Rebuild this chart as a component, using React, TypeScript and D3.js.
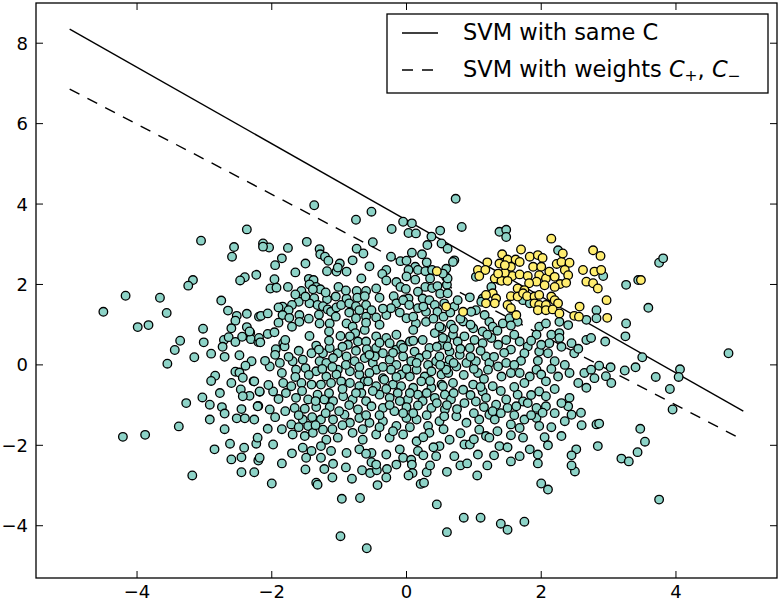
import React from 'react';
import * as d3 from 'd3';

const W = 783;
const H = 603;

const xTicks = [-4, -2, 0, 2, 4];
const yTicks = [-4, -2, 0, 2, 4, 6, 8];

const lineX = [-5, 5];
const sameCY = [8.35, -1.15];
const weightedY = [6.86, -1.87];

const legendLabels = ['SVM with same C', 'SVM with weights '];

// majority class (teal)
const majority: [number, number][] = [
  [-2.37,3.37],[-3.05,3.09],[-2.56,2.93],[-2.59,2.69],[-3.17,2.11],[-3.24,1.97],[-2.40,2.18],[-2.47,2.10],[-2.23,2.24],[-4.17,1.72],[-3.66,1.67],[-4.5,1.32],[-3.56,1.29],[-3.99,0.94],[-3.83,0.99],[-3.02,0.90],[-2.52,1.22],[-2.54,1.10],[-2.37,1.27],[-2.60,0.91],[-2.37,0.94],[-2.19,1.20],
  [-3.36,0.60],[-3.44,0.37],[-3.01,0.56],[-3.55,0.03],[-3.15,0.19],[-2.90,0.28],[-2.71,0.62],[-2.64,0.69],[-2.73,0.45],[-2.54,0.57],[-2.44,0.70],[-2.32,0.80],[-2.31,0.64],[-2.20,0.57],[-2.48,0.24],[-2.30,0.09],[-2.39,-0.02],[-2.54,-0.17],[-2.48,-0.19],[-2.43,-0.32],[-2.84,-0.27],[-2.27,-0.41],[-2.46,-0.61],[-2.33,-0.77],[-2.43,-0.78],[-2.77,-0.70],[-3.03,-0.81],[-3.27,-0.95],[-2.92,-0.99],[-2.74,-1.05],[-2.70,-1.21],[-2.45,-1.10],[-2.20,-1.02],[-2.18,-0.67],[-2.92,-1.36],[-2.52,-1.33],[-2.40,-1.33],[-3.38,-1.53],[-2.70,-1.60],[-4.21,-1.79],[-3.88,-1.74],[-2.62,-1.96],[-2.41,-2.06],[-2.23,-1.96],[-2.45,-2.30],
  [-2.20,-2.38],[-2.45,-2.67],[-2.26,-2.67],[-3.18,-2.75],
  [-1.37,3.97],[-0.52,3.81],[-0.75,3.61],[-0.05,3.56],[0.08,3.52],[-0.22,3.38],[0.03,3.28],[0.14,3.27],[0.50,3.34],[0.37,3.19],[0.31,2.98],[0.52,3.02],
  [-2.13,3.02],[-2.04,2.92],[-2.13,2.94],[-1.76,2.91],[-1.48,3.06],[-1.29,2.88],[-0.74,2.89],[-0.64,2.77],[-0.50,3.05],[-1.28,2.75],[-1.21,2.69],[-1.16,2.59],[-1.50,2.52],[-0.99,2.52],[-1.95,2.48],
  [-1.18,2.33],[-1.04,2.32],[-1.02,2.42],[-0.89,2.32],[-0.23,2.69],[-0.09,2.58],[0.08,2.79],[0.00,2.59],[0.23,2.75],[0.30,2.55],[0.13,2.44],[-0.30,2.36],[-0.36,2.26],[0.03,2.36],[0.17,2.36],[0.28,2.33],[0.38,2.36],[0.59,2.39],
  [-0.67,2.15],[-1.45,2.14],[-1.38,2.11],[-1.96,2.13],[-2.02,1.90],[-1.93,1.92],[-1.76,1.94],[-1.44,2.00],[-1.34,1.94],[-1.28,1.88],[-1.39,1.88],[-1.01,1.94],[-1.56,1.84],[-1.37,1.66],[-1.18,1.63],[-1.60,1.57],[-0.74,1.84],[-0.60,1.84],[-0.73,1.67],[-0.62,1.71],[-0.40,1.67],[-0.15,2.06],[-0.09,1.94],[-0.01,1.89],[-0.19,1.71],[-0.03,1.63],[0.03,1.65],[0.17,1.82],[0.13,2.12],[0.28,1.94],[0.38,1.91],[0.46,1.96],[0.50,1.77],[0.59,2.18],[0.60,1.99],
  [0.24,1.65],[0.34,1.61],[0.17,1.41],[0.29,1.32],[0.42,1.49],[0.46,1.32],
  [-1.84,1.45],[-1.90,1.43],[-1.70,1.49],[-1.75,1.36],[-1.84,1.24],[-1.74,1.17],[-2.16,1.22],[-2.06,1.28],[-1.59,1.24],[-1.59,1.07],[-1.44,1.53],[-1.32,1.49],[-1.24,1.46],[-1.17,1.38],[-1.12,1.32],[-1.04,1.43],[-0.97,1.49],[-0.89,1.65],[-0.85,1.53],[-0.75,1.46],[-0.60,1.49],[-0.52,1.36],[-0.70,1.36],[-1.29,1.03],[-1.14,1.03],[-0.89,1.03],[-0.75,1.16],[-0.60,1.20],[-0.45,1.18],[-0.30,1.24],[-0.15,1.53],[-0.23,1.41],[-0.05,1.61],[0.04,1.49],[0.00,1.16],[0.14,1.03],[0.29,1.07],
  [-2.33,0.83],[-2.19,0.67],[-2.06,0.77],[-1.96,0.81],[-1.83,0.54],[-1.15,0.83],[-0.80,0.95],[-0.76,0.79],[-0.62,0.87],[-0.45,0.71],[-0.30,0.67],[-0.15,0.75],[0.10,0.87],[0.42,0.79],[0.52,0.91],[0.59,0.62],
  [-2.17,0.56],[-1.94,0.39],[-1.81,0.46],[-1.80,0.62],[-1.44,0.72],[-1.34,0.48],[-1.41,0.29],[-1.24,0.29],[-1.14,0.42],[-1.02,0.29],[-0.98,0.72],[-0.84,0.71],[-0.87,0.50],[-0.72,0.58],[-0.60,0.58],[-0.59,0.39],[-0.45,0.42],[-0.35,0.29],[-0.25,0.54],[-0.15,0.38],[-0.08,0.50],[0.05,0.58],[0.12,0.33],[0.24,0.62],[0.34,0.42],[0.52,0.50],[0.64,0.33],
  [-1.69,0.09],[-1.54,0.13],[-1.64,-0.12],[-1.50,-0.08],[-1.29,0.09],[-1.19,0.05],[-1.09,0.17],[-1.02,-0.12],[-0.89,0.21],[-0.77,0.09],[-0.62,0.17],[-0.50,0.05],[-0.47,0.21],[-0.25,0.13],[-0.15,0.00],[-0.05,0.21],[0.07,0.09],[0.19,0.17],[0.32,0.00],[0.44,0.09],[0.59,-0.04],
  [-2.03,-0.04],[-1.88,0.05],[-1.34,-0.16],[-1.19,-0.29],[-1.04,-0.24],[-0.84,-0.16],[-0.70,-0.24],[-0.62,-0.41],[-0.45,-0.12],[-0.35,-0.33],[-0.23,-0.12],[-0.08,-0.24],[0.05,-0.29],[0.15,-0.12],[0.27,-0.29],[0.37,-0.16],[0.52,-0.24],[0.62,-0.20],
  [-2.26,-0.41],[-1.83,-0.45],[-1.71,-0.53],[-1.56,-0.45],[-1.41,-0.49],[-1.27,-0.49],[-1.12,-0.45],[-0.97,-0.41],[-0.84,-0.45],[-0.70,-0.53],[-0.57,-0.41],[-0.45,-0.53],[-0.33,-0.37],[-0.20,-0.49],[-0.08,-0.53],[0.10,-0.57],[0.22,-0.41],[0.37,-0.57],[0.52,-0.49],
  [-2.18,-0.66],[-1.98,-0.66],[-1.79,-0.70],[-1.64,-0.82],[-1.46,-0.86],[-1.32,-0.74],[-1.22,-0.86],[-1.09,-0.90],[-0.94,-0.78],[-0.80,-0.86],[-0.67,-0.70],[-0.60,-0.90],[-0.40,-0.74],[-0.25,-0.82],[-0.13,-0.70],[0.02,-0.86],[0.17,-0.74],[0.24,-0.90],[0.42,-0.82],[0.57,-0.74],
  [-2.21,-1.03],[-2.03,-1.11],[-1.66,-1.07],[-1.51,-1.09],[-1.34,-1.05],[-1.14,-1.05],[-0.92,-1.24],[-0.72,-1.11],[-0.52,-1.03],[-0.35,-1.07],[-0.18,-1.15],[0.00,-1.05],[0.17,-1.01],[0.37,-1.07],[0.57,-1.11],
  [-2.26,-1.36],[-2.06,-1.59],[-1.71,-1.48],[-1.54,-1.36],[-1.46,-1.52],[-1.27,-1.36],[-1.24,-1.61],[-1.09,-1.36],[-0.84,-1.44],[-0.70,-1.32],[-0.55,-1.44],[-0.35,-1.40],[-0.15,-1.52],[0.00,-1.32],[0.15,-1.36],[0.32,-1.52],[0.49,-1.40],
  [-2.21,-1.81],[-1.98,-1.98],[-1.69,-1.73],[-1.51,-1.77],[-1.39,-1.69],[-1.19,-1.86],[-1.02,-1.81],[-0.80,-1.69],[-0.65,-1.86],[-0.45,-1.73],[-0.25,-1.81],[-0.05,-1.73],[0.15,-1.90],[0.34,-1.69],[0.49,-2.02],
  [-2.18,-2.31],[-1.54,-2.06],[-1.41,-2.14],[-1.27,-2.02],[-1.12,-2.14],[-0.89,-2.19],[-0.70,-2.10],[-0.52,-2.19],[-0.30,-2.23],[-0.10,-2.10],[0.17,-2.14],[0.44,-2.27],
  [-1.49,-2.31],[-1.27,-2.31],[-0.05,-2.31],[0.07,-2.36],[-2.0,-2.95],[-1.22,-2.59],[-1.09,-2.46],[-1.34,-2.93],[-1.32,-2.98],[-0.81,-2.83],[-0.66,-2.62],[-0.54,-2.69],[-0.52,-2.42],[-0.44,-2.62],[-0.45,-2.48],[-0.29,-2.59],[-0.15,-2.48],[0.08,-2.48],[0.09,-2.69],[0.03,-2.75],[0.30,-2.67],[0.35,-2.50],[-0.43,-2.99],[0.21,-2.96],[0.26,-2.93],[0.60,-2.66],[-0.96,-3.33],[-0.69,-3.31],[0.45,-3.47],[-0.98,-4.26],[-0.59,-4.56],[0.60,-4.16],[-0.60,-2.21],
  [0.73,4.13],[0.82,3.43],[1.38,3.31],[1.48,3.36],[1.48,3.18],[0.61,2.89],[0.71,2.60],[0.69,2.56],[0.61,2.15],[0.54,2.27],[1.03,2.19],[0.61,1.78],[0.56,1.53],[0.71,1.45],[0.76,1.61],[0.94,1.68],[1.03,1.36],[0.96,1.32],[1.13,1.65],[1.11,1.57],[1.38,2.11],[1.26,1.94],[1.16,1.24],[1.23,1.07],[1.43,1.03],[1.53,1.16],[1.73,1.61],[1.83,1.53],[1.65,1.07],[1.97,0.95],[2.07,1.03],[2.25,2.85],[2.27,1.07],[2.40,0.99],[2.82,1.36],[2.82,1.16],[2.92,2.21],[3.26,1.99],[3.44,2.11],[3.26,1.03],[2.67,1.12],
  [0.49,0.95],[0.66,1.0],[0.84,1.08],[0.99,0.91],[1.13,0.83],[1.28,0.95],[1.55,0.98],[1.93,0.75],[2.15,0.75],[2.27,0.79],
  [0.54,0.67],[0.69,0.75],[0.61,0.46],[0.76,0.58],[0.86,0.71],[1.01,0.62],[0.94,0.42],[1.13,0.54],[1.26,0.67],[1.36,0.50],[1.48,0.62],[1.55,0.38],[1.68,0.58],[1.80,0.46],[1.75,0.29],[1.97,0.33],[2.10,0.29],[2.20,0.09],[2.12,0.54],[2.27,0.67],[2.45,0.54],[2.49,0.29],[2.67,0.62],[2.74,0.67],
  [0.49,0.21],[0.64,0.13],[0.79,0.25],[0.59,-0.12],[0.74,-0.04],[0.89,0.05],[1.03,0.09],[1.18,0.21],[1.23,0.05],[1.06,-0.20],[1.21,-0.12],[1.36,-0.04],[1.48,0.05],[1.41,-0.29],[1.55,-0.20],[1.68,-0.20],[1.83,-0.29],[1.93,-0.12],[2.0,-0.24],[2.07,-0.41],[2.25,-0.29],[2.42,-0.20],[2.64,-0.20],[2.74,-0.12],[2.79,-0.33],
  [0.54,-0.53],[0.69,-0.45],[0.84,-0.62],[0.99,-0.49],[1.13,-0.66],[1.28,-0.53],[0.66,-0.86],[0.86,-0.95],[1.03,-0.91],[1.18,-0.82],[1.33,-0.99],[1.48,-0.86],[1.65,-0.74],[1.73,-0.91],[1.50,-1.07],[1.63,-1.03],[1.80,-0.95],[1.97,-0.66],[2.07,-0.78],[1.93,-1.07],[2.07,-1.03],[2.42,-0.82],[2.40,-1.03],[2.59,-1.19],[2.67,-0.57],
  [0.56,-1.28],[0.74,-1.28],[0.89,-1.44],[1.08,-1.36],[1.23,-1.24],[1.31,-1.36],[1.28,-1.15],[1.55,-1.48],[1.68,-1.57],[1.75,-1.36],[1.93,-1.32],[2.02,-1.19],[1.97,-1.52],[2.35,-1.40],[2.45,-1.24],[2.82,-1.48],[2.30,-1.77],[1.18,-1.77],[1.08,-1.61],[1.23,-1.81],[0.86,-1.98],[0.64,-1.86],[0.94,-1.98],[1.38,-2.02],[1.73,-1.81],[1.83,-2.10],[1.95,-2.23],[1.68,-2.27],[0.71,-2.27],[1.06,-2.23],[2.52,-2.10],[2.84,-2.02],
  [3.75,2.54],[3.81,2.65],[3.59,1.42],[3.25,0.71],[2.95,0.58],[4.78,0.29],[3.50,0.19],[2.86,-0.02],[3.03,-0.06],[2.96,-0.28],[3.04,-0.45],[3.24,-0.14],[3.40,-0.06],[3.70,-0.30],[4.06,-0.11],[4.04,-0.30],[3.91,-0.60],[3.95,-1.11],[2.86,-1.46],[3.47,-1.59],[3.54,-1.91],[3.43,-2.17],[3.19,-2.33],
  [0.85,-3.8],[1.1,-3.8],[1.4,-3.95],[1.5,-4.1],[1.75,-3.9],[2.0,-2.95],[2.1,-3.1],[2.45,-2.25],[2.5,-2.65],[2.45,-2.5],[1.2,-2.5],[1.05,-2.75],[0.8,-2.5],[1.55,-2.4],[1.95,-2.45],[3.3,-2.4],[3.75,-3.35],
  [-1.95,0.25],[-1.75,0.2],[-1.6,0.35],[-1.3,0.38],[-1.15,0.6],[-0.95,0.45],[-0.75,0.35],[-0.55,0.25],[-0.4,0.55],[-0.2,0.3],[-0.05,0.42],[0.1,0.6],[0.3,0.25],[0.45,0.45],[0.7,0.9],[0.8,0.4],[0.95,0.2],[1.1,0.35],[1.2,0.75],[1.35,0.85],[1.45,0.3],[1.6,0.75],[1.7,0.1],[1.85,0.6],[2.0,0.5],[2.3,0.45],[2.55,0.4],
  [-2.1,0.1],[-1.85,-0.2],[-1.65,-0.3],[-1.45,-0.25],[-1.25,-0.1],[-1.1,-0.05],[-0.9,0.0],[-0.7,-0.05],[-0.55,-0.2],[-0.35,-0.05],[-0.15,-0.3],[0.0,-0.1],[0.15,0.05],[0.35,-0.4],[0.5,0.0],[0.7,0.05],[0.85,-0.25],[1.0,-0.1],[1.15,-0.35],[1.3,0.2],[1.6,0.0],[1.75,-0.45],[1.95,0.1],[2.15,-0.1],[2.35,0.0],[2.55,-0.45],
  [-2.05,-0.5],[-1.9,-0.85],[-1.55,-0.65],[-1.35,-0.9],[-1.15,-0.7],[-0.95,-0.6],[-0.75,-0.7],[-0.5,-0.65],[-0.3,-0.6],[-0.1,-0.9],[0.05,-0.7],[0.3,-0.7],[0.45,-0.95],[0.7,-0.7],[0.95,-0.75],[1.1,-0.55],[1.4,-0.65],[1.6,-0.55],[1.85,-0.75],[2.2,-0.6],[2.3,-0.95],
  [-1.95,-1.3],[-1.8,-1.15],[-1.6,-1.25],[-1.4,-1.3],[-1.2,-1.2],[-1.0,-1.15],[-0.85,-1.0],[-0.6,-1.25],[-0.4,-1.25],[-0.25,-1.0],[-0.05,-1.2],[0.1,-1.2],[0.3,-1.25],[0.6,-1.0],[0.75,-1.1],[1.0,-1.2],[1.15,-1.05],[1.4,-1.2],[1.6,-1.25],[1.85,-1.25],[2.2,-1.2],
  [-1.85,-1.6],[-1.6,-1.55],[-1.35,-1.5],[-1.1,-1.6],[-0.95,-1.5],[-0.65,-1.6],[-0.4,-1.55],[-0.2,-1.65],[0.05,-1.55],[0.25,-1.8],[0.55,-1.6],[0.8,-1.7],[1.0,-1.85],[1.35,-1.65],[1.55,-1.75],[2.05,-1.8],
  [-1.9,1.05],[-1.7,0.95],[-1.45,1.15],[-1.3,1.25],[-1.05,1.2],[-0.85,1.3],[-0.6,1.05],[-0.4,1.0],[-0.35,1.4],[-0.1,1.3],[0.1,1.2],[0.25,1.45],[0.4,1.15],[0.55,1.2],[0.65,1.3],[0.8,1.15],[0.95,1.0],
  [-1.65,1.75],[-1.5,1.7],[-1.2,1.8],[-1.05,1.7],[-0.9,1.85],[-0.45,1.9],[-0.3,2.1],[0.0,2.2],[0.35,2.15],[-0.55,2.45],[-0.8,2.6],[-1.65,2.3],[-1.85,2.65],
  [-2.7,0.2],[-2.6,-0.45],[-2.9,-0.4],[-2.65,1.35],[-2.75,1.6],[-2.85,-2.1],[-2.6,-2.35],[-1.7,-2.2],[-1.85,-2.45],[-1.5,-2.6],[-0.9,-2.55],[-1.1,-2.8],[-0.3,-2.8],[0.25,-2.25],[0.4,-2.05],[0.9,-2.45],[1.3,-2.25],[1.5,-2.05],[2.15,-1.55],[2.6,-1.5],[2.1,-2.0],
];

// minority class (yellow)
const minority: [number, number][] = [
  [0.45,2.33],[0.59,1.45],
  [2.15,3.14],[2.77,2.85],[2.88,2.71],[1.70,2.87],[1.42,2.75],[1.20,2.55],[1.06,2.36],[1.17,2.36],[1.08,2.21],[1.50,2.62],[1.62,2.62],[1.68,2.56],[1.83,2.69],[1.95,2.73],[2.02,2.66],[1.88,2.44],[2.00,2.44],[1.97,2.23],[2.07,2.15],[1.93,2.07],[2.05,1.98],[2.12,2.32],[2.20,2.19],[2.23,2.51],[2.30,2.56],[2.32,2.77],[2.42,2.54],[2.35,2.36],[2.40,2.23],[2.28,2.01],[2.37,2.04],[2.20,1.94],[2.62,2.36],[2.79,2.32],[2.89,2.36],[2.67,2.07],[2.77,2.03],[2.84,1.90],[1.55,2.44],[1.57,2.21],[1.46,2.29],[1.31,2.15],[1.41,2.09],[1.50,2.09],[1.36,2.27],[1.68,2.25],[1.80,2.21],[1.82,2.03],[1.65,1.90],[1.75,1.86],[1.55,1.71],[1.65,1.70],[1.73,1.78],[1.79,1.71],[1.90,1.70],[1.97,1.74],[1.90,1.53],[1.97,1.49],[2.07,1.49],[1.95,1.36],[2.07,1.36],[2.15,1.70],[2.20,1.61],[2.25,1.53],[2.17,1.38],[2.27,1.28],[2.57,1.45],[2.97,1.61],[2.98,1.17],[2.49,1.22],[2.56,1.20],[1.28,1.78],[1.33,1.65],[1.18,1.74],[1.18,1.53],[1.31,1.53],[1.50,1.49],[1.55,1.41],[1.63,1.24],[0.84,1.32],[1.38,2.52],[1.46,2.48],
  [3.48,2.11],
];

const fmt = (v: number) => String(v).replace('-', '\u2212');

export default function App() {
  const left = 36, right = 777, top = 3, bottom = 578;
  const x = d3.scaleLinear().domain([-5.5, 5.5]).range([left, right]);
  const y = d3.scaleLinear().domain([-5.3, 9.0]).range([bottom, top]);
  const mkLine = (ys: number[]) =>
    d3.line<number>().x((_, i) => x(lineX[i])).y((d) => y(d))(ys) || '';
  const font = 'DejaVu Sans, sans-serif';
  const tickLen = 7;
  return (
    <svg width={W} height={H} style={{ position: 'absolute', left: 0, top: 0, background: '#fff' }} fontFamily={font}>
      <defs>
        <clipPath id="plotclip">
          <rect x={left} y={top} width={right - left} height={bottom - top} />
        </clipPath>
      </defs>
      <rect x={0} y={0} width={W} height={H} fill="#fff" />
      <g clipPath="url(#plotclip)">
        <path d={mkLine(sameCY)} fill="none" stroke="#000" strokeWidth={1.4} />
        <path d={mkLine(weightedY)} fill="none" stroke="#000" strokeWidth={1.4} strokeDasharray="11,9" />
        {majority.map((p, i) => (
          <circle key={'a' + i} cx={x(p[0])} cy={y(p[1])} r={4.3} fill="#8dd3c7" stroke="#000" strokeWidth={1.3} />
        ))}
        {minority.map((p, i) => (
          <circle key={'b' + i} cx={x(p[0])} cy={y(p[1])} r={4.3} fill="#ffed6f" stroke="#000" strokeWidth={1.3} />
        ))}
      </g>
      <rect x={left} y={top} width={right - left} height={bottom - top} fill="none" stroke="#000" strokeWidth={1.3} />
      {xTicks.map((t) => (
        <g key={'xt' + t}>
          <line x1={x(t)} x2={x(t)} y1={bottom} y2={bottom - tickLen} stroke="#000" />
          <line x1={x(t)} x2={x(t)} y1={top} y2={top + tickLen} stroke="#000" />
          <text x={x(t)} y={598} textAnchor="middle" fontSize={18}>{fmt(t)}</text>
        </g>
      ))}
      {yTicks.map((t) => (
        <g key={'yt' + t}>
          <line x1={left} x2={left + tickLen} y1={y(t)} y2={y(t)} stroke="#000" />
          <line x1={right} x2={right - tickLen} y1={y(t)} y2={y(t)} stroke="#000" />
          <text x={28} y={y(t) + 6.5} textAnchor="end" fontSize={18}>{fmt(t)}</text>
        </g>
      ))}
      <g>
        <rect x={387} y={14} width={381} height={79} fill="#fff" stroke="#000" strokeWidth={1.3} />
        <line x1={402} x2={438} y1={33} y2={33} stroke="#000" strokeWidth={1.4} />
        <line x1={402} x2={438} y1={70} y2={70} stroke="#000" strokeWidth={1.4} strokeDasharray="11,9" />
        <text x={463} y={40} fontSize={22.5}>{legendLabels[0]}</text>
        <text x={463} y={77} fontSize={22.5} xmlSpace="preserve">
          {legendLabels[1]}
          <tspan fontStyle="italic">C</tspan>
          <tspan fontSize={15.5} dy={4}>+</tspan>
          <tspan dy={-4}>, </tspan>
          <tspan fontStyle="italic">C</tspan>
          <tspan fontSize={15.5} dy={4}>{'\u2212'}</tspan>
        </text>
      </g>
    </svg>
  );
}
